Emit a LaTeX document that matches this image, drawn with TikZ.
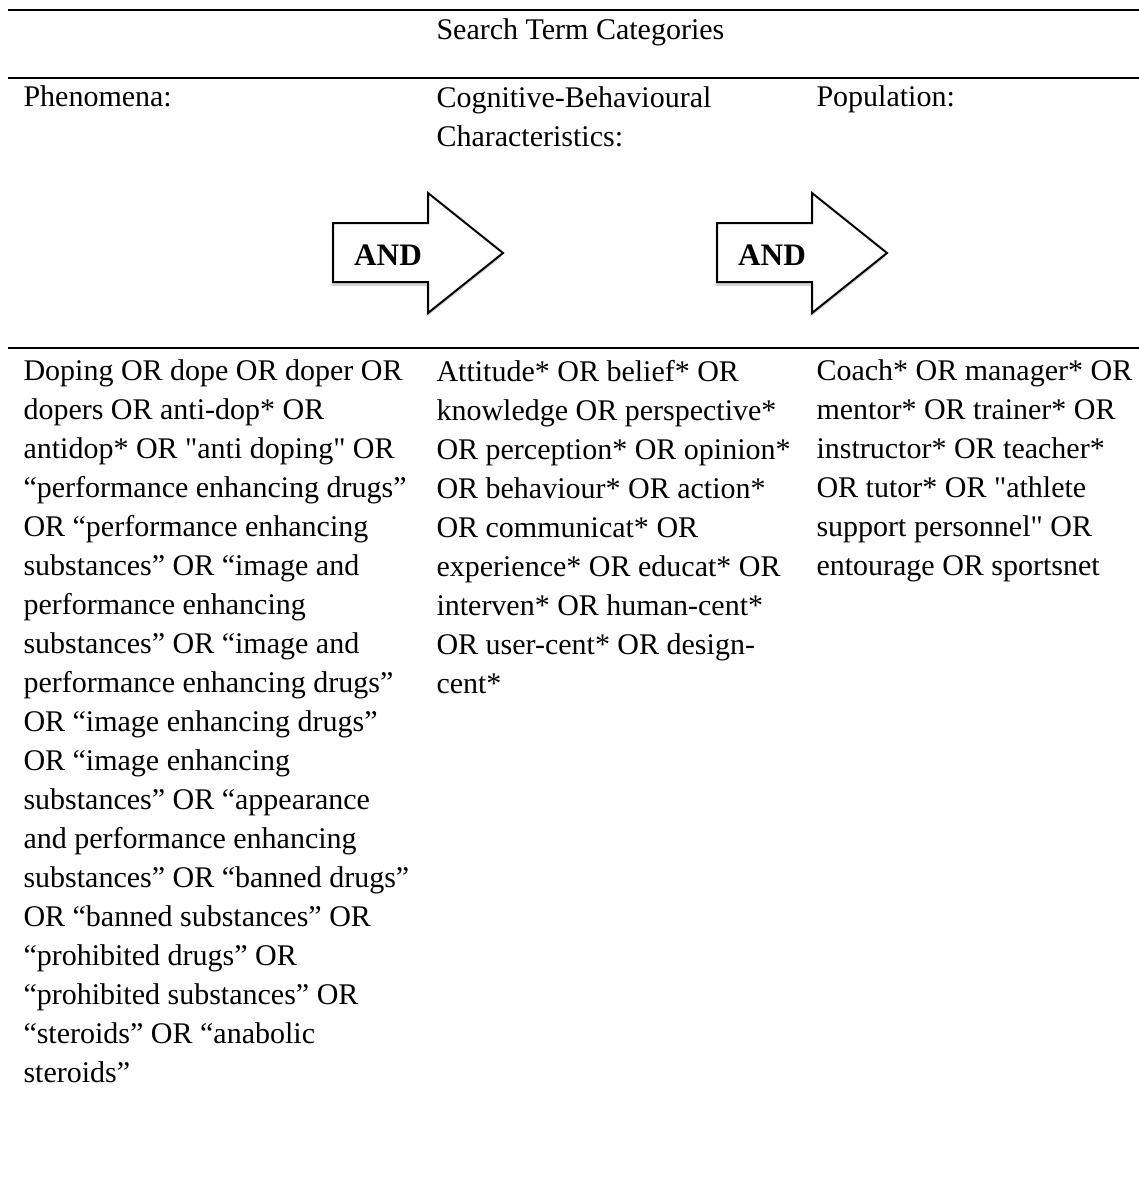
\documentclass[tikz,border=0pt]{standalone}
\usepackage{fontspec}
\setmainfont{Liberation Serif}[Ligatures=TeXOff]
\usetikzlibrary{shadows}
\tikzset{
  cell/.style={anchor=north west, inner sep=0pt, align=left, font=\fontsize{12}{15.6}\selectfont},
  andarrow/.style={draw, line width=0.8pt, fill=white, line join=miter,
    drop shadow={shadow xshift=-0.6pt, shadow yshift=-1.6pt, opacity=0.35}},
  andlabel/.style={inner sep=0pt, font=\fontsize{12.5}{14}\selectfont\bfseries},
  tablerule/.style={line width=1pt},
}
\begin{document}
\begin{tikzpicture}[x=0.4pt,y=-0.4pt]
  \useasboundingbox (0,0) rectangle (1139,1199);
  % table rules
  \draw[tablerule] (8,10) -- (1139,10);
  \draw[tablerule] (8,78) -- (1139,78);
  \draw[tablerule, line width=0.7pt] (8,348) -- (1139,348);
  % header
  \node[cell, anchor=base west] (title) at (436,40) {Search Term Categories};
  \node[cell, anchor=base west] (phen) at (23,107) {Phenomena:};
  \node[cell] (cogn) at (436,86.5) {Cognitive-Behavioural\\Characteristics:};
  \node[cell, anchor=base west] (popu) at (816,107) {Population:};
  % AND arrows
  \begin{scope}
    \draw[andarrow] (333,223) -- (428,223) -- (428,193) -- (503,253)
      -- (428,313) -- (428,282) -- (333,282) -- cycle;
    \node[andlabel] (and1) at (388,255) {AND};
  \end{scope}
  \begin{scope}[shift={(384,0)}]
    \draw[andarrow] (333,223) -- (428,223) -- (428,193) -- (503,253)
      -- (428,313) -- (428,282) -- (333,282) -- cycle;
    \node[andlabel] (and2) at (388,255) {AND};
  \end{scope}
  % search terms
  \node[cell] (phenterms) at (23,359.5) {Doping OR dope OR doper OR\\
    dopers OR anti-dop* OR\\
    antidop* OR "anti doping" OR\\
    “performance enhancing drugs”\\
    OR “performance enhancing\\
    substances” OR “image and\\
    performance enhancing\\
    substances” OR “image and\\
    performance enhancing drugs”\\
    OR “image enhancing drugs”\\
    OR “image enhancing\\
    substances” OR “appearance\\
    and performance enhancing\\
    substances” OR “banned drugs”\\
    OR “banned substances” OR\\
    “prohibited drugs” OR\\
    “prohibited substances” OR\\
    “steroids” OR “anabolic\\
    steroids”};
  \node[cell] (cognterms) at (436,359.5) {Attitude* OR belief* OR\\
    knowledge OR perspective*\\
    OR perception* OR opinion*\\
    OR behaviour* OR action*\\
    OR communicat* OR\\
    experience* OR educat* OR\\
    interven* OR human-cent*\\
    OR user-cent* OR design-\\
    cent*};
  \node[cell] (poputerms) at (816,359.5) {Coach* OR manager* OR\\
    mentor* OR trainer* OR\\
    instructor* OR teacher*\\
    OR tutor* OR "athlete\\
    support personnel" OR\\
    entourage OR sportsnet};
\end{tikzpicture}
\end{document}
